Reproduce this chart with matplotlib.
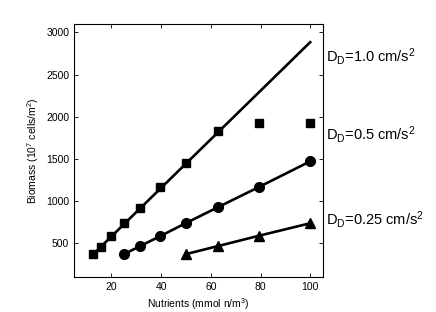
import matplotlib
import numpy as np

matplotlib.use('Agg')
import matplotlib.pyplot as plt

plt.rcParams['font.family'] = ['Liberation Sans', 'DejaVu Sans']
plt.rcParams['mathtext.fontset'] = 'custom'
plt.rcParams['mathtext.rm'] = 'Liberation Sans'
plt.rcParams['mathtext.it'] = 'Liberation Sans'

# nutrient levels (mmol n/m^3)
nut_sq = [12.5, 15.75, 19.84, 25, 31.5, 39.7, 50, 63]
bio_sq = [368, 460, 583, 735, 918, 1162, 1450, 1828]
# fitted line for D_D = 1.0 continues past the data
line_sq_x = [12.5, 100]
line_sq_y = [365, 2885]
# saturated points for D_D = 1.0
sat_x = [79.4, 100]
sat_y = [1928, 1928]

nut_ci = [25, 31.5, 39.7, 50, 63, 79.4, 100]
bio_ci = [370, 466, 586, 740, 930, 1168, 1472]

nut_tri = [50, 63, 79.4, 100]
bio_tri = [372, 468, 590, 738]

labels = [r'D$_\mathrm{D}$=1.0 cm/s$^2$',
          r'D$_\mathrm{D}$=0.5 cm/s$^2$',
          r'D$_\mathrm{D}$=0.25 cm/s$^2$']
label_y = [2720, 1790, 780]

fig = plt.figure(figsize=(4.36, 3.12), dpi=100)
ax = fig.add_axes([0.170, 0.112, 0.570, 0.811])

ax.plot(line_sq_x, line_sq_y, color='black', lw=1.9)
ax.plot(nut_sq, bio_sq, 's', color='black', ms=6)
ax.plot(sat_x, sat_y, 's', color='black', ms=5.5)
ax.plot(nut_ci, bio_ci, '-o', color='black', lw=1.9, ms=7)
ax.plot(nut_tri, bio_tri, '-^', color='black', lw=1.9, ms=7)

for txt, yy in zip(labels, label_y):
    ax.text(106.3, yy, txt, fontsize=10.5, va='center', ha='left', clip_on=False)

ax.set_xlim(5, 105)
ax.set_ylim(100, 3100)
ax.set_xticks([20, 40, 60, 80, 100])
ax.set_yticks([500, 1000, 1500, 2000, 2500, 3000])
ax.tick_params(direction='in', top=True, right=True, labelsize=7.5, length=3, width=0.6)
for s in ax.spines.values():
    s.set_linewidth(0.8)

ax.set_xlabel(r'Nutrients (mmol n/m$^3$)', fontsize=7.5, labelpad=3)
ax.set_ylabel(r'Biomass (10$^7$ cells/m$^2$)', fontsize=7.5, labelpad=4)

fig.savefig('out.png', dpi=100)
